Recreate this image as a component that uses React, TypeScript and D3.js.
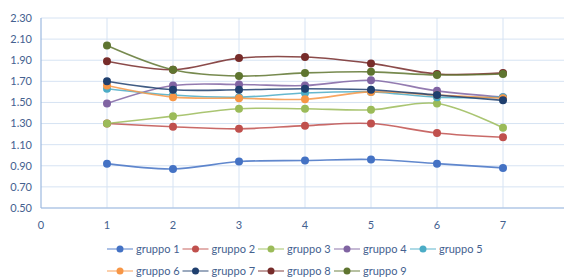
import React from "react";
import * as d3 from "d3";

const xs = [1, 2, 3, 4, 5, 6, 7];
const yTicks = [0.5, 0.7, 0.9, 1.1, 1.3, 1.5, 1.7, 1.9, 2.1, 2.3];
const xTicks = [0, 1, 2, 3, 4, 5, 6, 7, 8];

const names = [
  "gruppo 1", "gruppo 2", "gruppo 3", "gruppo 4", "gruppo 5",
  "gruppo 6", "gruppo 7", "gruppo 8", "gruppo 9"
];
const colors = [
  "#4472C4", "#C0504D", "#9BBB59", "#8064A2", "#4BACC6",
  "#F79646", "#1F3F6E", "#772C2A", "#5F7530"
];

const gruppo1 = [0.92, 0.87, 0.94, 0.95, 0.96, 0.92, 0.88];
const gruppo2 = [1.30, 1.27, 1.25, 1.28, 1.30, 1.21, 1.17];
const gruppo3 = [1.30, 1.37, 1.44, 1.44, 1.43, 1.49, 1.26];
const gruppo4 = [1.49, 1.66, 1.67, 1.66, 1.71, 1.61, 1.55];
const gruppo5 = [1.63, 1.57, 1.55, 1.59, 1.60, 1.55, 1.55];
const gruppo6 = [1.66, 1.55, 1.54, 1.53, 1.60, 1.57, 1.54];
const gruppo7 = [1.70, 1.62, 1.62, 1.63, 1.62, 1.57, 1.52];
const gruppo8 = [1.89, 1.81, 1.92, 1.93, 1.87, 1.77, 1.78];
const gruppo9 = [2.04, 1.81, 1.75, 1.78, 1.79, 1.76, 1.77];

const series = [gruppo1, gruppo2, gruppo3, gruppo4, gruppo5, gruppo6, gruppo7, gruppo8, gruppo9];

const font = "Lato, 'Open Sans', sans-serif";
const textColor = "#44618F";

export default function App() {
  const x = d3.scaleLinear().domain([0, 8]).range([41, 569]);
  const y = d3.scaleLinear().domain([0.5, 2.3]).range([208, 18]);

  const line = d3
    .line<number>()
    .x((d, i) => x(xs[i]))
    .y(d => y(d))
    .curve(d3.curveCatmullRom.alpha(0.5));

  const legendX = [107, 182.5, 258, 334, 410];
  const legendY = [249, 271];

  return (
    <svg
      width={564}
      height={278}
      style={{ position: "absolute", left: 0, top: 0, background: "#fff" }}
    >
      {/* grid */}
      {yTicks.map(t => (
        <line key={"gy" + t} x1={41} x2={564} y1={y(t)} y2={y(t)} stroke="#D6E3F3" strokeWidth={1} />
      ))}
      {xTicks.slice(1).map(t => (
        <line key={"gx" + t} x1={x(t)} x2={x(t)} y1={y(2.3)} y2={y(0.5)} stroke="#D6E3F3" strokeWidth={1} />
      ))}
      {/* axes */}
      <line x1={41} x2={41} y1={y(2.3)} y2={y(0.5)} stroke="#9DB9E0" strokeWidth={1.2} />
      <line x1={41} x2={564} y1={y(0.5)} y2={y(0.5)} stroke="#9DB9E0" strokeWidth={1.2} />

      {yTicks.map(t => (
        <text key={"ly" + t} x={32} y={y(t)} dy="0.35em" textAnchor="end"
          fontFamily={font} fontSize={11} fill={textColor}>
          {t.toFixed(2)}
        </text>
      ))}
      {xTicks.map(t => (
        <text key={"lx" + t} x={x(t)} y={225} dy="0.35em" textAnchor="middle"
          fontFamily={font} fontSize={11} fill={textColor}>
          {t}
        </text>
      ))}

      {/* series */}
      {series.map((s, si) => (
        <g key={names[si]}>
          <path d={line(s) || ""} fill="none" stroke={colors[si]} strokeWidth={1.6} strokeOpacity={0.85} />
          {s.map((v, i) => (
            <circle key={i} cx={x(xs[i])} cy={y(v)} r={4} fill={colors[si]} />
          ))}
        </g>
      ))}

      {/* legend */}
      {names.map((n, i) => {
        const lx = legendX[i % 5];
        const ly = legendY[Math.floor(i / 5)];
        return (
          <g key={"lg" + n}>
            <line x1={lx} x2={lx + 26} y1={ly} y2={ly} stroke={colors[i]} strokeOpacity={0.6} strokeWidth={1.5} />
            <circle cx={lx + 13} cy={ly} r={3.5} fill={colors[i]} />
            <text x={lx + 29} y={ly} dy="0.35em" fontFamily={font} fontSize={11} fill={textColor}>
              {n}
            </text>
          </g>
        );
      })}
    </svg>
  );
}
